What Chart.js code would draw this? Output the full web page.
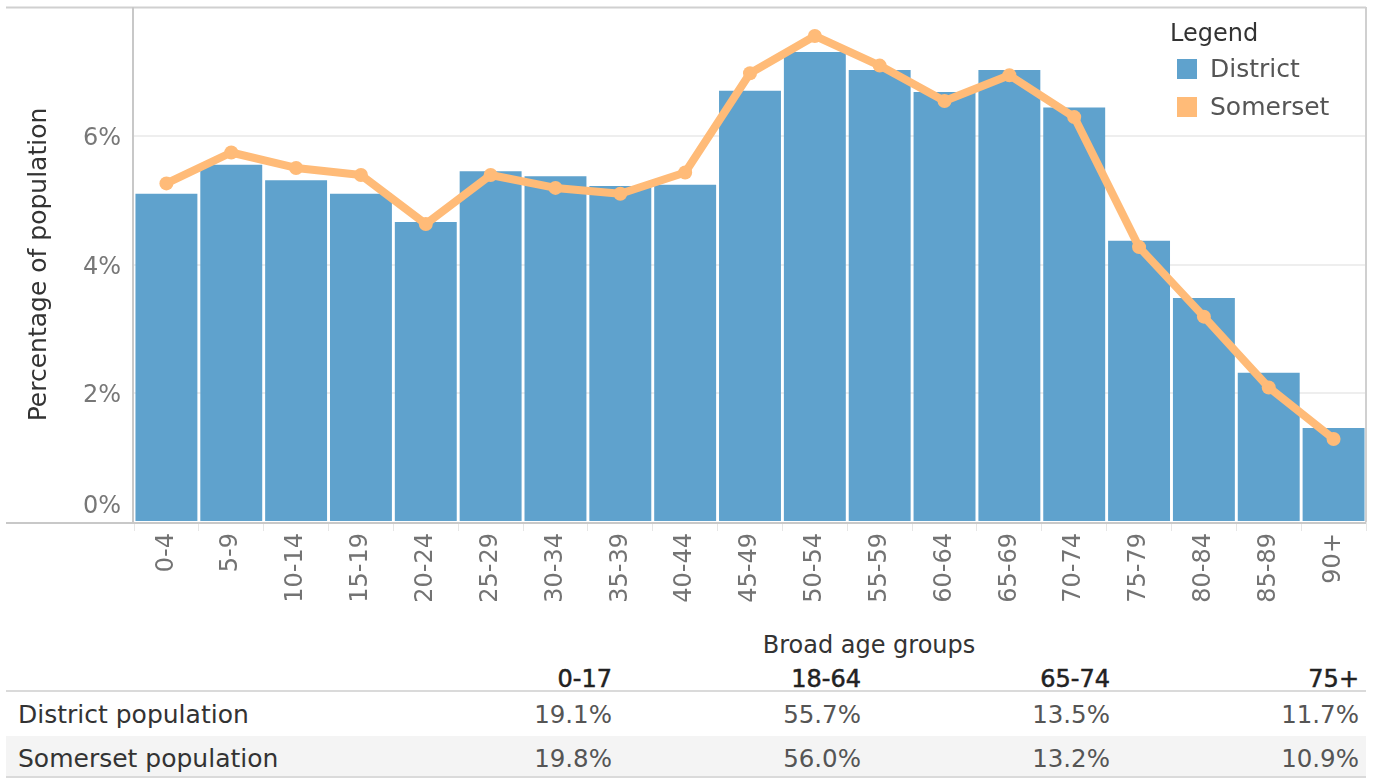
<!DOCTYPE html>
<html>
<head>
<meta charset="utf-8">
<script src="https://cdn.jsdelivr.net/npm/chart.js@4.4.1/dist/chart.umd.min.js"></script>
<style>
  html, body { margin: 0; padding: 0; background: #fff; }
  body { width: 1374px; height: 779px; position: relative; overflow: hidden; font-family: "DejaVu Sans", sans-serif; }
  #wrap { position: absolute; left: 0; top: 0; width: 1374px; height: 625px; }
  #legend { position: absolute; left: 1170px; top: 16px; color: #333; }
  #legend .title { font-size: 24px; line-height: 34px; height: 34px; }
  #legend .item { position: relative; height: 38px; line-height: 38px; font-size: 25px; color: #555; padding-left: 40px; }
  #legend .sw { position: absolute; left: 7px; top: 9px; width: 20px; height: 20px; }
  .t { position: absolute; white-space: nowrap; line-height: 30px; height: 30px; }
  .hline { position: absolute; left: 6px; width: 1360px; height: 2px; background: #dadada; }
</style>
</head>
<body>
<div id="wrap"><canvas id="c" width="1374" height="625"></canvas></div>
<div id="legend"></div>
<div id="table"></div>
<script>
const ageGroups = ['0-4','5-9','10-14','15-19','20-24','25-29','30-34','35-39','40-44','45-49','50-54','55-59','60-64','65-69','70-74','75-79','80-84','85-89','90+'];
const districtPct = [5.10,5.55,5.31,5.10,4.66,5.45,5.37,5.22,5.24,6.70,7.30,7.02,6.68,7.02,6.44,4.37,3.48,2.32,1.46];
const somersetPct = [5.26,5.74,5.50,5.39,4.63,5.39,5.19,5.10,5.43,6.97,7.55,7.09,6.54,6.94,6.29,4.27,3.19,2.09,1.29];
const yTickValues = [0, 2, 4, 6];
const yMax = 8;
const seriesNames = ['District', 'Somerset'];
const seriesColors = ['#5fa2cd', '#ffbb78'];

const broadGroups = ['0-17', '18-64', '65-74', '75+'];
const districtBroad = [19.1, 55.7, 13.5, 11.7];
const somersetBroad = [19.8, 56.0, 13.2, 10.9];
const tableRowLabels = ['District population', 'Somerset population'];

Chart.defaults.font.family = '"DejaVu Sans", sans-serif';

const framePlugin = {
  id: 'frame',
  afterDatasetsDraw(chart) {
    const ctx = chart.ctx, a = chart.chartArea;
    const ys = chart.scales.y;
    ctx.save();
    ctx.strokeStyle = '#d0d0d0';
    ctx.lineWidth = 2;
    ctx.beginPath();
    ctx.moveTo(6, a.top + 0.5); ctx.lineTo(a.right, a.top + 0.5);
    ctx.moveTo(a.right, a.top); ctx.lineTo(a.right, a.bottom);
    ctx.stroke();
    ctx.strokeStyle = '#c8c8c8';
    ctx.beginPath();
    ctx.moveTo(6, a.bottom + 1); ctx.lineTo(a.right, a.bottom + 1);
    ctx.moveTo(a.left - 1, a.top); ctx.lineTo(a.left - 1, a.bottom);
    ctx.stroke();
    // zero label sits above the axis line
    ctx.fillStyle = '#777';
    ctx.font = '24px "DejaVu Sans", sans-serif';
    ctx.textAlign = 'right';
    ctx.textBaseline = 'middle';
    ctx.fillText(yTickValues[0] + '%', a.left - 13, ys.getPixelForValue(yTickValues[0]) - 15);
    ctx.restore();
  }
};

new Chart(document.getElementById('c'), {
  data: {
    labels: ageGroups,
    datasets: [
      {
        type: 'line', label: seriesNames[1], data: somersetPct, order: 0,
        borderColor: seriesColors[1], backgroundColor: seriesColors[1],
        borderWidth: 8, pointRadius: 7, pointHoverRadius: 7, pointBorderWidth: 0,
        pointBackgroundColor: seriesColors[1], tension: 0,
        borderCapStyle: 'round', borderJoinStyle: 'round'
      },
      {
        type: 'bar', label: seriesNames[0], data: districtPct, order: 1,
        backgroundColor: seriesColors[0], borderWidth: 0,
        barPercentage: 0.955, categoryPercentage: 1.0
      }
    ]
  },
  options: {
    responsive: false,
    animation: false,
    events: [],
    layout: { padding: { top: 6, right: 8, left: 0, bottom: 0 } },
    plugins: { legend: { display: false }, tooltip: { enabled: false } },
    scales: {
      x: {
        grid: { drawOnChartArea: false, drawTicks: true, tickLength: 9, offset: true, color: '#e6e6e6', lineWidth: 1 },
        border: { display: false },
        ticks: { color: '#737373', font: { size: 24 }, minRotation: 90, maxRotation: 90, padding: 2, autoSkip: false },
        afterFit(s) { s.height = 103; s.paddingLeft = 0; s.paddingRight = 0; }
      },
      y: {
        min: 0, max: yMax,
        afterBuildTicks(s) { s.ticks = yTickValues.concat([yMax]).map(v => ({ value: v })); },
        grid: {
          drawTicks: false,
          color: (c) => (c.tick && (c.tick.value === 0 || c.tick.value === yMax)) ? 'rgba(0,0,0,0)' : '#eeeeee',
          lineWidth: 2
        },
        border: { display: false },
        ticks: {
          color: '#777', font: { size: 24 }, padding: 13, labelOffset: 3,
          callback: (v) => (v === yTickValues[0] || v === yMax) ? '' : v + '%'
        },
        title: {
          display: true, text: 'Percentage of population', color: '#333',
          font: { size: 25 }, padding: { top: 24, bottom: 0 }
        },
        afterFit(s) { s.width = 134; s.paddingTop = 0; s.paddingBottom = 0; }
      }
    }
  },
  plugins: [framePlugin]
});

// legend
const lg = document.getElementById('legend');
let lh = '<div class="title">Legend</div>';
seriesNames.forEach((n, i) => {
  lh += '<div class="item"><span class="sw" style="background:' + seriesColors[i] + '"></span>' + n + '</div>';
});
lg.innerHTML = lh;

// table
const tb = document.getElementById('table');
const colRight = [612, 861, 1110, 1359];
let th = '<div class="t" style="left:0;width:1738px;text-align:center;top:630px;font-size:24px;color:#333;">Broad age groups</div>';
broadGroups.forEach((g, i) => {
  th += '<div class="t" style="right:' + (1374 - colRight[i]) + 'px;top:664px;font-size:24px;color:#222;-webkit-text-stroke:0.5px #222;">' + g + '</div>';
});
th += '<div class="hline" style="top:690px;"></div>';
th += '<div style="position:absolute;left:6px;width:1360px;top:736px;height:41px;background:#f4f4f4;"></div>';
th += '<div class="hline" style="top:776px;"></div>';
const rows = [districtBroad, somersetBroad];
const rowTop = [700, 744];
rows.forEach((r, ri) => {
  th += '<div class="t" style="left:18px;top:' + rowTop[ri] + 'px;font-size:25px;color:#333;">' + tableRowLabels[ri] + '</div>';
  r.forEach((v, i) => {
    th += '<div class="t" style="right:' + (1374 - colRight[i]) + 'px;top:' + rowTop[ri] + 'px;font-size:24.5px;color:#555;">' + v.toFixed(1) + '%</div>';
  });
});
tb.innerHTML = th;
</script>
</body>
</html>
